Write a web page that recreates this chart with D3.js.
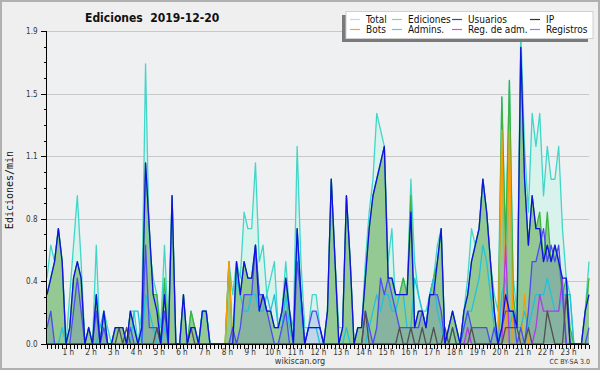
<!DOCTYPE html>
<html lang="es">
<head>
<meta charset="utf-8">
<title>Ediciones 2019-12-20</title>
<script src="https://cdn.jsdelivr.net/npm/d3@7"></script>
<style>
  body { margin: 0; background: #fff; }
  svg { display: block; }
  .axis path, .axis line { stroke: #000; shape-rendering: crispEdges; }
  .axis text { font-family: "DejaVu Sans Condensed", "DejaVu Sans", sans-serif; font-stretch: condensed; font-size: 8px; fill: #333; }
  .grid line { stroke: #c8c8c8; shape-rendering: crispEdges; }
  .legend text { font-family: "DejaVu Sans Condensed", "DejaVu Sans", sans-serif; font-stretch: condensed; font-size: 10px; fill: #111; }
</style>
</head>
<body>
<script>
// edits per minute, one value per 10 minutes (6 per hour, 24 hours)
var total = [
  0.4, 0.6, 0.5, 0.7, 0.5, 0.0,
  0.3, 0.6, 0.9, 0.5, 0.0, 0.1,
  0.0, 0.6, 0.0, 0.2, 0.1, 0.0,
  0.1, 0.1, 0.1, 0.0, 0.2, 0.2,
  0.0, 0.2, 1.7, 0.6, 0.4, 0.3,
  0.1, 0.6, 0.1, 0.9, 0.0, 0.0,
  0.3, 0.0, 0.2, 0.1, 0.0, 0.2,
  0.2, 0.0, 0.0, 0.0, 0.0, 0.0,
  0.5, 0.3, 0.5, 0.4, 0.8, 0.7,
  0.7, 1.1, 0.5, 0.6, 0.3, 0.4,
  0.5, 0.1, 0.2, 0.5, 0.2, 0.1,
  1.2, 0.5, 0.1, 0.1, 0.3, 0.3,
  0.1, 0.0, 0.2, 1.0, 0.5, 0.1,
  0.1, 0.9, 0.5, 0.0, 0.1, 0.1,
  0.5, 0.8, 1.0, 1.4, 1.3, 1.2,
  0.5, 0.7, 0.2, 0.3, 0.4, 0.3,
  1.0, 0.5, 0.3, 0.2, 0.2, 0.3,
  0.4, 0.6, 0.7, 0.0, 0.1, 0.2,
  0.1, 0.0, 0.2, 0.4, 0.7, 0.6,
  0.7, 1.0, 0.8, 0.5, 0.3, 0.2,
  1.5, 0.6, 1.6, 0.4, 0.2, 1.9,
  1.2, 0.8, 1.4, 1.2, 1.4, 0.9,
  1.2, 1.0, 1.0, 1.2, 0.7, 0.4,
  0.3, 0.0, 0.0, 0.0, 0.2, 0.5
];
var ediciones = [
  0.3, 0.4, 0.5, 0.7, 0.5, 0.0,
  0.1, 0.4, 0.5, 0.4, 0.0, 0.1,
  0.0, 0.3, 0.0, 0.2, 0.0, 0.0,
  0.1, 0.1, 0.1, 0.0, 0.2, 0.1,
  0.0, 0.1, 1.1, 0.7, 0.3, 0.3,
  0.0, 0.4, 0.0, 0.9, 0.0, 0.0,
  0.3, 0.0, 0.2, 0.1, 0.0, 0.2,
  0.2, 0.0, 0.0, 0.0, 0.0, 0.0,
  0.5, 0.0, 0.5, 0.3, 0.5, 0.4,
  0.4, 0.6, 0.3, 0.3, 0.2, 0.2,
  0.1, 0.1, 0.2, 0.4, 0.2, 0.0,
  0.7, 0.3, 0.0, 0.0, 0.0, 0.0,
  0.0, 0.0, 0.2, 1.0, 0.5, 0.0,
  0.1, 0.9, 0.5, 0.0, 0.1, 0.1,
  0.4, 0.7, 0.9, 1.0, 1.1, 1.2,
  0.4, 0.4, 0.3, 0.3, 0.4, 0.3,
  0.9, 0.1, 0.2, 0.2, 0.1, 0.3,
  0.4, 0.5, 0.7, 0.0, 0.1, 0.2,
  0.1, 0.0, 0.2, 0.3, 0.5, 0.6,
  0.7, 1.0, 0.8, 0.5, 0.2, 0.0,
  1.5, 0.6, 1.6, 0.3, 0.1, 1.8,
  1.0, 0.6, 0.9, 0.7, 0.8, 0.5,
  0.8, 0.5, 0.6, 0.5, 0.3, 0.4,
  0.1, 0.0, 0.0, 0.0, 0.2, 0.4
];
var usuarios = [
  0.3, 0.4, 0.5, 0.7, 0.5, 0.0,
  0.1, 0.4, 0.5, 0.4, 0.0, 0.1,
  0.0, 0.3, 0.0, 0.2, 0.0, 0.0,
  0.1, 0.1, 0.1, 0.0, 0.2, 0.1,
  0.0, 0.1, 1.1, 0.7, 0.3, 0.2,
  0.0, 0.3, 0.0, 0.9, 0.0, 0.0,
  0.3, 0.0, 0.1, 0.1, 0.0, 0.2,
  0.2, 0.0, 0.0, 0.0, 0.0, 0.0,
  0.0, 0.0, 0.5, 0.3, 0.5, 0.4,
  0.4, 0.6, 0.2, 0.3, 0.2, 0.2,
  0.1, 0.1, 0.2, 0.4, 0.2, 0.0,
  0.7, 0.3, 0.0, 0.1, 0.1, 0.1,
  0.1, 0.0, 0.2, 1.0, 0.5, 0.0,
  0.1, 0.9, 0.5, 0.0, 0.1, 0.1,
  0.4, 0.7, 0.9, 1.0, 1.1, 1.2,
  0.4, 0.4, 0.3, 0.3, 0.3, 0.3,
  0.8, 0.1, 0.2, 0.2, 0.1, 0.3,
  0.3, 0.5, 0.7, 0.0, 0.1, 0.2,
  0.1, 0.0, 0.2, 0.3, 0.5, 0.6,
  0.7, 1.0, 0.8, 0.5, 0.2, 0.0,
  0.1, 0.3, 0.2, 0.2, 0.1, 1.8,
  1.0, 0.6, 0.9, 0.7, 0.7, 0.5,
  0.6, 0.5, 0.6, 0.5, 0.4, 0.4,
  0.0, 0.0, 0.0, 0.0, 0.2, 0.3
];
var ip = [
  0, 0, 0, 0, 0, 0,
  0, 0, 0, 0, 0, 0,
  0, 0, 0, 0, 0, 0,
  0, 0.1, 0, 0.1, 0, 0,
  0, 0, 0, 0, 0, 0.1,
  0, 0, 0, 0, 0, 0,
  0, 0, 0.1, 0, 0, 0,
  0, 0, 0, 0, 0, 0,
  0, 0, 0, 0, 0, 0,
  0, 0, 0, 0, 0, 0,
  0, 0, 0, 0, 0, 0,
  0, 0, 0, 0, 0, 0,
  0, 0, 0, 0, 0, 0,
  0, 0, 0, 0, 0, 0,
  0.2, 0, 0, 0, 0, 0,
  0, 0, 0, 0.1, 0, 0,
  0.1, 0, 0, 0.1, 0, 0,
  0.1, 0, 0, 0.1, 0, 0.1,
  0, 0, 0, 0, 0.1, 0,
  0, 0, 0, 0, 0, 0,
  0, 0.1, 0.1, 0.1, 0.1, 0,
  0, 0.1, 0, 0, 0, 0,
  0.2, 0.1, 0, 0, 0, 0.3,
  0, 0, 0, 0, 0, 0
];
var bots = d3.range(144).map(function () { return 0; });
bots[48] = 0.5; bots[120] = 1.3; bots[122] = 1.3; bots[126] = 0.3;
var admins = [
  0, 0, 0, 0, 0.1, 0,
  0, 0, 0, 0, 0, 0,
  0, 0, 0.1, 0.2, 0, 0,
  0, 0, 0, 0, 0, 0.2,
  0.2, 0, 0.3, 0.2, 0.1, 0,
  0, 0.1, 0, 0, 0, 0,
  0, 0, 0, 0, 0, 0.2,
  0.2, 0, 0, 0, 0, 0,
  0, 0, 0.4, 0.3, 0.2, 0.2,
  0.3, 0.3, 0.2, 0.2, 0.3, 0.2,
  0.3, 0.1, 0.1, 0.3, 0.1, 0.0,
  0.7, 0.2, 0.0, 0.1, 0.1, 0.1,
  0, 0, 0, 0, 0, 0,
  0, 0.1, 0, 0, 0, 0,
  0, 0.1, 0.2, 0.3, 0.2, 0.3,
  0.3, 0.2, 0.2, 0.3, 0.3, 0.1,
  0.1, 0.4, 0.3, 0.2, 0.1, 0.3,
  0.4, 0.2, 0.1, 0.0, 0.0, 0.1,
  0.0, 0.0, 0.1, 0.2, 0.2, 0.3,
  0.4, 0.6, 0.5, 0.3, 0.1, 0.0,
  0.3, 0.4, 0.1, 0.2, 0.1, 0.1,
  0.2, 0.1, 0.2, 0.3, 0.3, 0.3,
  0.4, 0.3, 0.2, 0.2, 0.3, 0.3,
  0.3, 0.0, 0.0, 0.0, 0.0, 0.0
];
var regAdm = d3.range(144).map(function () { return 0; });
regAdm[111] = 0.1; regAdm[121] = 0.6; regAdm[129] = 0.1; regAdm[130] = 0.3; regAdm[131] = 0.2;
regAdm[132] = 0.2; regAdm[133] = 0.2; regAdm[134] = 0.2; regAdm[135] = 0.2; regAdm[136] = 0.4;
var registros = [
  0.1, 0.2, 0.0, 0.0, 0.0, 0.0,
  0.0, 0.2, 0.4, 0.2, 0.0, 0.0,
  0.0, 0.2, 0.0, 0.1, 0.0, 0.0,
  0.0, 0.0, 0.0, 0.0, 0.1, 0.0,
  0.0, 0.0, 0.6, 0.1, 0.1, 0.1,
  0.0, 0.2, 0.0, 0.0, 0.0, 0.0,
  0.0, 0.0, 0.0, 0.0, 0.0, 0.0,
  0.0, 0.0, 0.0, 0.0, 0.0, 0.0,
  0.0, 0.1, 0.0, 0.1, 0.3, 0.3,
  0.3, 0.6, 0.3, 0.3, 0.2, 0.1,
  0.0, 0.0, 0.1, 0.2, 0.0, 0.0,
  0.5, 0.3, 0.0, 0.1, 0.2, 0.2,
  0.1, 0.0, 0.0, 0.0, 0.0, 0.0,
  0.0, 0.0, 0.0, 0.0, 0.0, 0.0,
  0.2, 0.1, 0.0, 0.1, 0.4, 0.3,
  0.4, 0.3, 0.2, 0.1, 0.1, 0.1,
  0.1, 0.1, 0.1, 0.2, 0.1, 0.3,
  0.3, 0.3, 0.2, 0.0, 0.0, 0.0,
  0.0, 0.0, 0.1, 0.2, 0.1, 0.1,
  0.1, 0.1, 0.1, 0.0, 0.1, 0.0,
  0.1, 0.2, 0.2, 0.2, 0.0, 0.1,
  0.0, 0.2, 0.5, 0.5, 0.6, 0.7,
  0.5, 0.6, 0.5, 0.6, 0.3, 0.0,
  0.0, 0.0, 0.0, 0.0, 0.0, 0.1
];

var yTicks = [0, 0.38, 0.76, 1.14, 1.52, 1.9];
var hourLabels = d3.range(1, 24).map(function (hr) { return hr + " h"; });

var legendNames = ["Total", "Ediciones", "Usuarios", "IP", "Bots", "Admins.", "Reg. de adm.", "Registros"];

//Width and height
var w = 600, h = 370;
var plotLeft = 47, plotRight = 589, plotTop = 31, plotBottom = 344;

var xScale = d3.scaleLinear().domain([0, 143]).range([plotLeft, plotRight]);
var yScale = d3.scaleLinear().domain([0, 1.9]).range([plotBottom, plotTop]);

var svg = d3.select("body").append("svg")
  .attr("width", w)
  .attr("height", h);

svg.append("rect")
  .attr("x", 1).attr("y", 1).attr("width", w - 2).attr("height", h - 2)
  .attr("fill", "#efefef").attr("stroke", "#b0b0b0").attr("stroke-width", 2);

svg.append("rect")
  .attr("x", plotLeft).attr("y", plotTop).attr("width", plotRight - plotLeft).attr("height", plotBottom - plotTop)
  .attr("fill", "#eff0f2");

// grid
svg.append("g").attr("class", "grid")
  .selectAll("line").data(yTicks.slice(1)).enter().append("line")
  .attr("x1", plotLeft).attr("x2", plotRight)
  .attr("y1", function (d) { return Math.round(yScale(d)) + 0.5; })
  .attr("y2", function (d) { return Math.round(yScale(d)) + 0.5; });

var area = d3.area()
  .x(function (d, i) { return xScale(i); })
  .y0(yScale(0))
  .y1(function (d) { return yScale(d); });

var line = d3.line()
  .x(function (d, i) { return xScale(i); })
  .y(function (d) { return yScale(d); });

svg.append("path").datum(total).attr("d", area).attr("fill", "#d8f2ec");
svg.append("path").datum(ediciones).attr("d", area).attr("fill", "#94c994");
svg.append("path").datum(registros).attr("d", area).attr("fill", "rgba(70,70,230,0.16)");

var series = [
  { data: total, color: "#40d6c8" },
  { data: ediciones, color: "#3cb43c" },
  { data: bots, color: "#ff9a00" },
  { data: admins, color: "#22c2dc" },
  { data: regAdm, color: "#b03ce6" },
  { data: registros, color: "#4c4cf0" },
  { data: ip, color: "#505050" },
  { data: usuarios, color: "#1010e0" }
];

series.forEach(function (s) {
  svg.append("path")
    .datum(s.data)
    .attr("d", line)
    .attr("fill", "none")
    .attr("stroke", s.color)
    .attr("stroke-width", 1.3)
    .attr("stroke-linejoin", "round");
});

// axes
var yAxis = d3.axisLeft(yScale)
  .tickValues(yTicks)
  .tickSize(6)
  .tickFormat(function (d) { return d.toFixed(1); });
var yg = svg.append("g").attr("class", "axis")
  .attr("transform", "translate(" + (plotLeft - 0.5) + ",0)")
  .call(yAxis);
yg.select(".domain").attr("d", "M0," + plotTop + "V" + plotBottom);

var yMinor = d3.axisLeft(yScale)
  .tickValues(d3.range(0, 20).map(function (k) { return k * 0.095; }))
  .tickSize(3)
  .tickFormat("");
svg.append("g").attr("class", "axis")
  .attr("transform", "translate(" + (plotLeft - 0.5) + ",0)")
  .call(yMinor)
  .select(".domain").remove();

var xAxis = d3.axisBottom(xScale)
  .tickValues(d3.range(0, 144))
  .tickSize(4)
  .tickPadding(1)
  .tickFormat(function (d) { return (d % 6 === 0 && d > 0) ? hourLabels[d / 6 - 1] : ""; });
var xg = svg.append("g").attr("class", "axis")
  .attr("transform", "translate(0," + (plotBottom + 0.5) + ")")
  .call(xAxis);
xg.select(".domain").attr("d", "M" + plotLeft + ",0H" + plotRight);
xg.selectAll(".tick text").attr("dx", -2);

// texts
svg.append("text")
  .attr("x", 85).attr("y", 21.5)
  .attr("font-family", "DejaVu Sans Condensed, DejaVu Sans, sans-serif")
  .attr("font-stretch", "condensed")
  .attr("font-weight", "bold")
  .attr("font-size", "12px")
  .attr("fill", "#111")
  .attr("xml:space", "preserve")
  .text("Ediciones  2019-12-20");

svg.append("text")
  .attr("transform", "translate(13,190) rotate(-90)")
  .attr("text-anchor", "middle")
  .attr("font-family", "DejaVu Sans Mono, monospace")
  .attr("font-size", "10px")
  .attr("fill", "#111")
  .text("Ediciones/min");

svg.append("text")
  .attr("x", 300).attr("y", 364)
  .attr("text-anchor", "middle")
  .attr("font-family", "DejaVu Sans Condensed, DejaVu Sans, sans-serif")
  .attr("font-stretch", "condensed")
  .attr("font-size", "9px")
  .attr("fill", "#333")
  .text("wikiscan.org");

svg.append("text")
  .attr("x", 590).attr("y", 364)
  .attr("text-anchor", "end")
  .attr("font-family", "DejaVu Sans Condensed, DejaVu Sans, sans-serif")
  .attr("font-stretch", "condensed")
  .attr("font-size", "7px")
  .attr("fill", "#333")
  .text("CC BY-SA 3.0");

// legend
var lg = svg.append("g").attr("class", "legend");
lg.append("rect").attr("x", 342).attr("y", 15).attr("width", 246).attr("height", 27).attr("fill", "#7a7a7a");
lg.append("rect").attr("x", 346).attr("y", 11.5).attr("width", 247).attr("height", 27)
  .attr("fill", "#ffffff").attr("stroke", "#d0d0d0");

var legendColors = ["#a8e6dc", "#8fd48f", "#3a3ad6", "#333333", "#f7a040", "#50cfe0", "#d050e8", "#8888e8"];
var colX = [350, 392, 452, 530];
var rowY = [19.5, 29.5];

legendNames.forEach(function (name, k) {
  var cx = colX[k % 4], cy = rowY[Math.floor(k / 4)];
  lg.append("line")
    .attr("x1", cx).attr("x2", cx + 10)
    .attr("y1", cy).attr("y2", cy)
    .attr("stroke", legendColors[k]).attr("stroke-width", 1.2);
  lg.append("text")
    .attr("x", cx + 16).attr("y", cy + 3.5)
    .text(name);
});
</script>
</body>
</html>
